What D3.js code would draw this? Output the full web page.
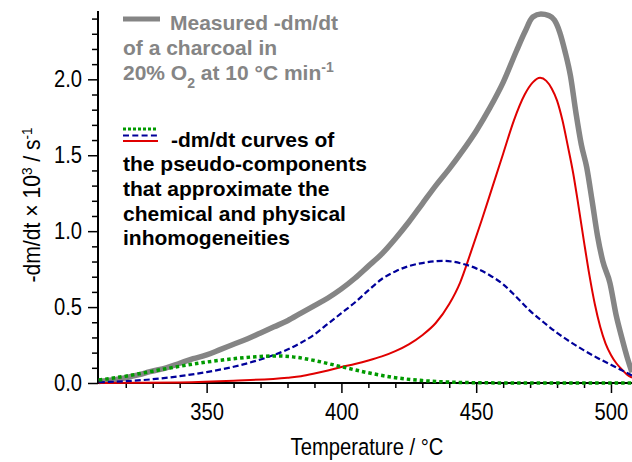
<!DOCTYPE html>
<html>
<head>
<meta charset="utf-8">
<script src="https://cdn.jsdelivr.net/npm/d3@7"></script>
<style>
  html, body { margin: 0; padding: 0; background: #fff; }
  svg { display: block; }
</style>
</head>
<body>
<svg id="chart" width="632" height="462"></svg>
<script>
// Measured mass-loss rate of a charcoal (grey) and fitted pseudo-component curves
const measuredT = [310, 315, 320, 325, 329, 335, 340, 345, 350, 355, 360, 365, 370, 375, 380, 385, 390, 395, 400, 405, 410, 415, 420, 425, 430, 435, 440, 445, 450, 455, 460, 465, 468, 471, 474, 477, 479, 481, 483, 485, 487, 489, 491, 493, 495, 497, 499.6, 502, 504, 506, 507.8];
const measuredV = [0.01, 0.02, 0.035, 0.055, 0.075, 0.10, 0.13, 0.16, 0.185, 0.22, 0.255, 0.29, 0.33, 0.37, 0.41, 0.46, 0.51, 0.56, 0.62, 0.69, 0.77, 0.85, 0.95, 1.06, 1.18, 1.30, 1.41, 1.53, 1.66, 1.81, 1.98, 2.19, 2.31, 2.41, 2.43, 2.42, 2.39, 2.31, 2.18, 2.02, 1.78, 1.57, 1.42, 1.20, 0.97, 0.80, 0.66, 0.44, 0.30, 0.17, 0.07];

const redT = [310, 340, 360, 380, 385, 390, 395, 400, 405, 410, 415, 420, 425, 430, 435, 440, 444, 448, 452, 456, 460, 464, 468, 471, 473.7, 476, 478, 480, 482, 484, 486, 488, 490, 492, 494, 496, 498, 500, 502, 504, 506, 507.8];
const redV = [0.0, 0.004, 0.015, 0.035, 0.045, 0.062, 0.082, 0.105, 0.125, 0.148, 0.175, 0.21, 0.255, 0.315, 0.395, 0.52, 0.66, 0.86, 1.07, 1.29, 1.51, 1.73, 1.90, 1.98, 2.01, 1.99, 1.94, 1.86, 1.73, 1.56, 1.38, 1.16, 0.93, 0.71, 0.52, 0.37, 0.26, 0.185, 0.13, 0.09, 0.055, 0.035];

const blueT = [310, 320, 330, 340, 350, 360, 370, 375, 380, 385, 390, 395, 400, 405, 410, 415, 420, 425, 430, 435, 438, 441, 445, 450, 455, 460, 465, 470, 475, 480, 485, 490, 495, 500, 505, 507.8];
const blueV = [0.005, 0.012, 0.025, 0.045, 0.072, 0.107, 0.155, 0.185, 0.22, 0.265, 0.32, 0.39, 0.46, 0.53, 0.61, 0.685, 0.735, 0.77, 0.79, 0.802, 0.805, 0.80, 0.785, 0.755, 0.71, 0.65, 0.565, 0.475, 0.40, 0.33, 0.27, 0.215, 0.165, 0.12, 0.075, 0.05];

const greenT = [310, 320, 330, 340, 350, 360, 370, 376, 382, 390, 400, 410, 420, 430, 440, 450, 460, 470, 507.8];
const greenV = [0.02, 0.045, 0.078, 0.11, 0.138, 0.16, 0.175, 0.178, 0.172, 0.148, 0.107, 0.067, 0.035, 0.016, 0.006, 0.002, 0.0005, 0.0, 0.0];

const xMajorTicks = [350, 400, 450, 500];
const xMinorTicks = [320, 330, 340, 360, 370, 380, 390, 410, 420, 430, 440, 460, 470, 480, 490];
const yMajorTicks = [0.0, 0.5, 1.0, 1.5, 2.0];
const yMinorTicks = [0.1, 0.2, 0.3, 0.4, 0.6, 0.7, 0.8, 0.9, 1.1, 1.2, 1.3, 1.4, 1.6, 1.7, 1.8, 1.9, 2.1, 2.2, 2.3, 2.4];

const svg = d3.select("#chart");
const x = d3.scaleLinear().domain([309.7, 507.8]).range([98, 632]);
const y = d3.scaleLinear().domain([0, 2.45]).range([383, 11]);

const font = '"Liberation Sans", Arial, sans-serif';
const squeeze = 0.86;   // condensed look for axis lettering

// axes
const axes = svg.append("g");
const yMinor = axes.append("g").attr("transform", "translate(98,0)")
  .call(d3.axisLeft(y).tickValues(yMinorTicks).tickSize(6).tickFormat(""));
const yMajor = axes.append("g").attr("transform", "translate(98,0)")
  .call(d3.axisLeft(y).tickValues(yMajorTicks).tickSize(10).tickPadding(6).tickFormat(d3.format(".1f")));
const xMinor = axes.append("g").attr("transform", "translate(0,383)")
  .call(d3.axisBottom(x).tickValues(xMinorTicks).tickSize(5).tickFormat(""));
const xMajor = axes.append("g").attr("transform", "translate(0,383)")
  .call(d3.axisBottom(x).tickValues(xMajorTicks).tickSize(10).tickPadding(10).tickFormat(d3.format("d")));

[yMinor, xMinor].forEach(g => g.select(".domain").remove());
yMajor.select(".domain").attr("d", `M0,${y(0)}V${y(2.45)}`);
xMajor.select(".domain").attr("d", `M${x(309.7)},0H${x(507.8)}`);
axes.selectAll(".domain").attr("stroke", "#000").attr("stroke-width", 2);
axes.selectAll(".tick line").attr("stroke", "#000").attr("stroke-width", 1.5);
axes.selectAll(".tick text").each(function() {
  const t = d3.select(this);
  const tx = +t.attr("x") || 0, ty = +t.attr("y") || 0;
  t.attr("x", 0).attr("y", 0)
   .attr("transform", `translate(${tx},${ty}) scale(${squeeze},1)`)
   .attr("fill", "#000").style("font-family", font).style("font-size", "23.5px");
});

// curves
const line = d3.line().x(d => x(d[0])).y(d => y(d[1])).curve(d3.curveMonotoneX);
const plot = svg.append("g");
plot.append("path").datum(d3.zip(measuredT, measuredV)).attr("d", line)
  .attr("fill", "none").attr("stroke", "#858585").attr("stroke-width", 5.5).attr("stroke-linejoin", "round");
plot.append("path").datum(d3.zip(redT, redV)).attr("d", line)
  .attr("fill", "none").attr("stroke", "#e00000").attr("stroke-width", 2);
plot.append("path").datum(d3.zip(blueT, blueV)).attr("d", line)
  .attr("fill", "none").attr("stroke", "#00009a").attr("stroke-width", 2.2).attr("stroke-dasharray", "6,3");
plot.append("path").datum(d3.zip(greenT, greenV)).attr("d", line)
  .attr("fill", "none").attr("stroke", "#009a00").attr("stroke-width", 3.5).attr("stroke-dasharray", "3.5,3");

// axis titles
const yTitle = svg.append("text").attr("transform", `translate(40,205) rotate(-90) scale(0.9,1)`)
  .attr("text-anchor", "middle").style("font-family", font).style("font-size", "23.5px").attr("fill", "#000");
yTitle.append("tspan").text("-dm/dt × 10");
yTitle.append("tspan").attr("baseline-shift", "super").style("font-size", "15px").text("3");
yTitle.append("tspan").text(" / s");
yTitle.append("tspan").attr("baseline-shift", "super").style("font-size", "15px").text("-1");

svg.append("text").attr("transform", `translate(367,455) scale(${squeeze},1)`).attr("text-anchor", "middle")
  .style("font-family", font).style("font-size", "23.5px").attr("fill", "#000").text("Temperature / °C");

// legend: measured curve
const lg = svg.append("g").style("font-family", font).style("font-size", "21px").style("font-weight", "bold");
lg.append("line").attr("x1", 123).attr("x2", 160).attr("y1", 19).attr("y2", 19)
  .attr("stroke", "#858585").attr("stroke-width", 5);
lg.append("text").attr("x", 170).attr("y", 30).attr("fill", "#858585").text("Measured -dm/dt");
lg.append("text").attr("x", 123).attr("y", 55).attr("fill", "#858585").text("of a charcoal in");
const l3 = lg.append("text").attr("x", 123).attr("y", 80).attr("fill", "#858585");
l3.append("tspan").text("20% O");
l3.append("tspan").attr("baseline-shift", "sub").style("font-size", "14px").text("2");
l3.append("tspan").text(" at 10 °C min");
l3.append("tspan").attr("baseline-shift", "super").style("font-size", "14px").text("-1");

// legend: pseudo-components
lg.append("line").attr("x1", 123).attr("x2", 158).attr("y1", 129).attr("y2", 129)
  .attr("stroke", "#009a00").attr("stroke-width", 3).attr("stroke-dasharray", "3,2");
lg.append("line").attr("x1", 123).attr("x2", 158).attr("y1", 135.5).attr("y2", 135.5)
  .attr("stroke", "#00009a").attr("stroke-width", 2).attr("stroke-dasharray", "6,3.3");
lg.append("line").attr("x1", 123).attr("x2", 158).attr("y1", 141).attr("y2", 141)
  .attr("stroke", "#e00000").attr("stroke-width", 2);
const compLines = ["-dm/dt curves of", "the pseudo-components", "that approximate the", "chemical and physical", "inhomogeneities"];
const compY = [147, 171, 196, 221, 245];
compLines.forEach((t, i) => {
  lg.append("text").attr("x", i === 0 ? 171 : 123).attr("y", compY[i]).attr("fill", "#000").text(t);
});
</script>
</body>
</html>
